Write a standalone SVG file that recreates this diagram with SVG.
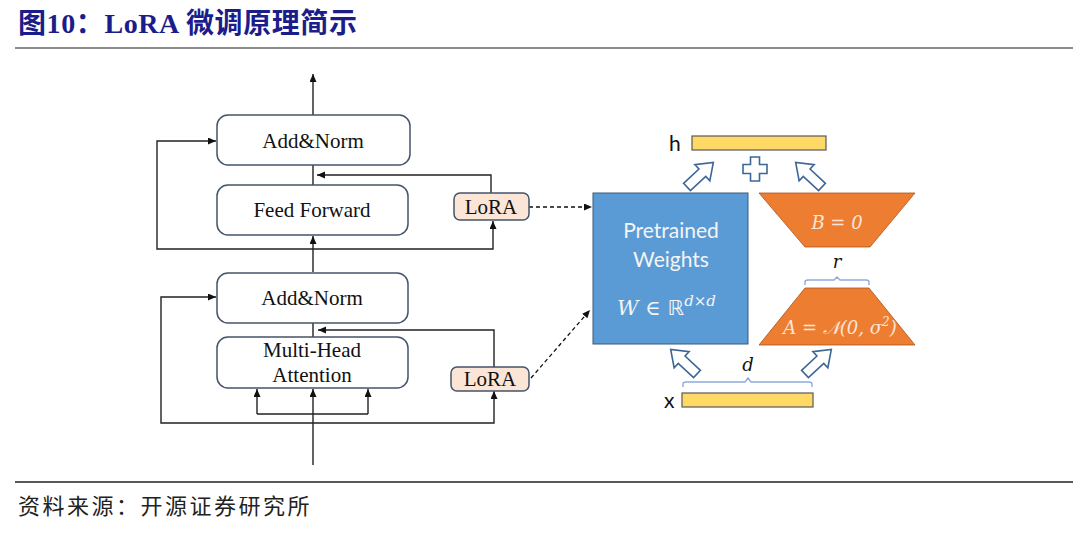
<svg xmlns="http://www.w3.org/2000/svg" width="1080" height="533" viewBox="0 0 1080 533">
<defs>
<marker id="ah" markerUnits="userSpaceOnUse" markerWidth="9" markerHeight="8" refX="8" refY="3.5" orient="auto"><path d="M0,0 L8,3.5 L0,7 z" fill="#111"/></marker>
<polygon id="barrow" points="0,-5 21,-5 21,-11 36,0 21,11 21,5 0,5"/>
</defs>
<style>
.box{fill:#fff;stroke:#44546a;stroke-width:1.5}
.lora{fill:#fbe5d6;stroke:#44546a;stroke-width:1.5}
.tm{font-family:"Liberation Serif",serif;font-size:21px;fill:#111;text-anchor:middle}
.ln{fill:none;stroke:#222;stroke-width:1.4}
.dash{fill:none;stroke:#111;stroke-width:1.3;stroke-dasharray:4 3}
.hol{fill:#fff;stroke:#3d6798;stroke-width:1.6}
.brace{fill:none;stroke:#8faadc;stroke-width:1.4}
.bar{fill:#ffd966;stroke:#595959;stroke-width:1.2}
.mi{font-family:"DejaVu Serif","Liberation Serif",serif;font-style:italic;font-size:18px;text-anchor:middle}
.sans{font-family:"Lato","Open Sans",sans-serif}
</style>
<rect width="1080" height="533" fill="#fff"/>
<g id="title">
<text x="18" y="33" font-family="Liberation Serif,'Noto Sans CJK SC',serif" font-weight="bold" font-size="28" letter-spacing="0.6" fill="#1b1d8a">图10：LoRA 微调原理简示</text>
<line x1="15" y1="48" x2="1073" y2="48" stroke="#666" stroke-width="1.5"/>
</g>
<g id="connectors">
<path class="ln" d="M313,115 V74" marker-end="url(#ah)"/>
<path class="ln" d="M313,185 V165"/>
<path class="ln" d="M491,193 V175 H317" marker-end="url(#ah)"/>
<path class="ln" d="M313,272 V236" marker-end="url(#ah)"/>
<path class="ln" d="M313,249 H157 V141 H216" marker-end="url(#ah)"/>
<path class="ln" d="M313,249 H493 V221" marker-end="url(#ah)"/>
<path class="ln" d="M313,337 V323"/>
<path class="ln" d="M494,367 V330 H318" marker-end="url(#ah)"/>
<path class="ln" d="M313,465 V389" marker-end="url(#ah)"/>
<path class="ln" d="M257,414 H368"/>
<path class="ln" d="M257,414 V389" marker-end="url(#ah)"/>
<path class="ln" d="M368,414 V389" marker-end="url(#ah)"/>
<path class="ln" d="M313,423 H161 V297 H216" marker-end="url(#ah)"/>
<path class="ln" d="M313,423 H494 V391" marker-end="url(#ah)"/>
<path class="dash" d="M529,207 H592" marker-end="url(#ah)"/>
<path class="dash" d="M531,378 L590,310" marker-end="url(#ah)"/>
</g>
<g id="addnorm-top"><rect class="box" x="217" y="115" width="193" height="50" rx="11"/><text class="tm" x="313" y="148">Add&amp;Norm</text></g>
<g id="feedforward"><rect class="box" x="217" y="185" width="191" height="50" rx="11"/><text class="tm" x="312" y="217">Feed Forward</text></g>
<g id="lora-top"><rect class="lora" x="454" y="193" width="75" height="27" rx="6"/><text class="tm" x="491" y="214">LoRA</text></g>
<g id="addnorm-bottom"><rect class="box" x="217" y="273" width="191" height="50" rx="11"/><text class="tm" x="312" y="305">Add&amp;Norm</text></g>
<g id="mha"><rect class="box" x="217" y="337" width="191" height="51" rx="11"/><text class="tm" x="312" y="357">Multi-Head</text><text class="tm" x="312" y="382">Attention</text></g>
<g id="lora-bottom"><rect class="lora" x="451" y="367" width="78" height="24" rx="6"/><text class="tm" x="490" y="386">LoRA</text></g>
<g id="pretrained">
<rect x="593" y="193" width="155" height="151" fill="#5b9bd5" stroke="#3b5a7a" stroke-width="1"/>
<text class="sans" x="671" y="238" font-size="21" fill="#f4f4f4" text-anchor="middle">Pretrained</text>
<text class="sans" x="671" y="267" font-size="21" fill="#f4f4f4" text-anchor="middle">Weights</text>
<text x="617" y="315" font-family="DejaVu Serif,serif" font-size="21" fill="#f4f4f4"><tspan font-style="italic">W</tspan> ∈ <tspan font-family="DejaVu Sans,sans-serif">ℝ</tspan><tspan font-style="italic" font-size="15" dy="-9">d</tspan><tspan font-size="15">×</tspan><tspan font-style="italic" font-size="15">d</tspan></text>
</g>
<g id="b-matrix">
<polygon points="759,193 915,193 870,247 805,247" fill="#ed7d31" stroke="#a9541c" stroke-width="0.8"/>
<text class="mi" x="837" y="229" fill="#fbe5d6">B = 0</text>
</g>
<g id="a-matrix">
<polygon points="805,288 869,288 915,345 759,345" fill="#ed7d31" stroke="#a9541c" stroke-width="0.8"/>
<text class="mi" x="840" y="334" fill="#fbe5d6">A = 𝒩(0, σ<tspan font-size="12" dy="-8">2</tspan><tspan dy="8">)</tspan></text>
</g>
<g id="h-vector">
<rect class="bar" x="692" y="136" width="134" height="14"/>
<text class="sans" x="669" y="151" font-size="21" fill="#111">h</text>
</g>
<g id="x-vector">
<rect class="bar" x="682" y="393" width="131" height="14"/>
<text class="sans" x="664" y="408" font-size="21" fill="#111">x</text>
</g>
<g id="r-brace">
<path class="brace" d="M805,285 V282 Q805,280 808,280 H834 L837,277 L840,280 H866 Q869,280 869,282 V285"/>
<text class="mi" x="837" y="268" fill="#111">r</text>
</g>
<g id="d-brace">
<path class="brace" d="M683,387 V384 Q683,382 686,382 H745 L748,378 L751,382 H809 Q812,382 812,384 V387"/>
<text class="mi" x="748" y="371" fill="#111">d</text>
</g>
<g id="plus">
<path class="hol" d="M750.5,157 H759.5 V164.5 H767 V173.5 H759.5 V181 H750.5 V173.5 H743 V164.5 H750.5 Z"/>
</g>
<g id="arrow-w-h"><use href="#barrow" class="hol" transform="translate(687,187) rotate(-43)"/></g>
<g id="arrow-b-h"><use href="#barrow" class="hol" transform="translate(822,187) rotate(-137)"/></g>
<g id="arrow-x-w"><use href="#barrow" class="hol" transform="translate(697,374) rotate(-137)"/></g>
<g id="arrow-x-a"><use href="#barrow" class="hol" transform="translate(805,374) rotate(-43)"/></g>
<g id="footer">
<line x1="15" y1="482" x2="1073" y2="482" stroke="#222" stroke-width="1.5"/>
<text x="18" y="514" font-family="'Noto Sans CJK SC',sans-serif" font-size="22" letter-spacing="2.5" fill="#222">资料来源：开源证券研究所</text>
</g>
</svg>
